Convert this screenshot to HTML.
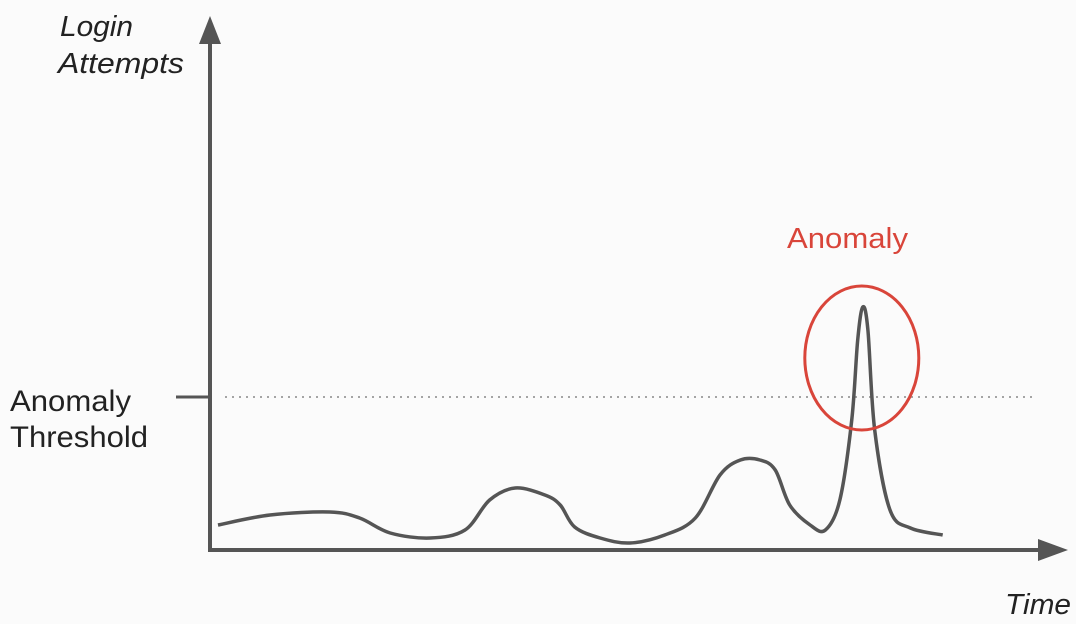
<!DOCTYPE html>
<html><head><meta charset="utf-8">
<style>
html,body{margin:0;padding:0;background:#fbfbfb;}
svg{display:block;}
text{font-family:"Liberation Sans",sans-serif;}
</style></head>
<body>
<svg id="chart" width="1076" height="624" viewBox="0 0 1076 624">
  <rect width="1076" height="624" fill="#fbfbfb"/>
  <text x="60" y="36" font-size="29" font-style="italic" fill="#222" textLength="73" lengthAdjust="spacingAndGlyphs">Login</text>
  <text x="58" y="73" font-size="29" font-style="italic" fill="#222" textLength="126" lengthAdjust="spacingAndGlyphs">Attempts</text>
  <text x="1005" y="614" font-size="29" font-style="italic" fill="#222" textLength="66" lengthAdjust="spacingAndGlyphs">Time</text>
  <text x="10" y="411" font-size="30" fill="#222" textLength="121" lengthAdjust="spacingAndGlyphs">Anomaly</text>
  <text x="10" y="447" font-size="30" fill="#222" textLength="138" lengthAdjust="spacingAndGlyphs">Threshold</text>
  <text x="787" y="248" font-size="29" fill="#d9453a" textLength="121" lengthAdjust="spacingAndGlyphs">Anomaly</text>
  <line x1="210" y1="40" x2="210" y2="552" stroke="#555" stroke-width="4"/>
  <polygon points="210,16 199,44 221,44" fill="#555"/>
  <line x1="208" y1="550" x2="1040" y2="550" stroke="#555" stroke-width="4"/>
  <polygon points="1068,550 1038,539 1038,561" fill="#555"/>
  <g id="marks"></g>
</svg>
<script>
const times = [0.94,7.06,14.1,17.6,21.2,25.9,30,32.9,35.9,39.4,41.2,42.9,45.9,49.4,53.5,57.1,60,62.4,64.7,66.5,68.2,70.6,72.4,74.1,75.5,76.2,76.8,77.4,78.2,80,82.4,86.2];
const attempts = [10,14,15.2,12.8,6.8,4.8,8,20,24.8,22,18,9.2,4.8,2.8,6,12.8,30,36,36,32,18,10,8,20,52,84,97.2,88,48,16,8.8,6];
const threshold = 61.2;

function xScale(t){return 210 + t*8.5;}
function yScale(v){return 550 - v*2.5;}

const NS="http://www.w3.org/2000/svg";
const g=document.getElementById('marks');

const tl=document.createElementNS(NS,'line');
tl.setAttribute('x1',176);tl.setAttribute('x2',210);
tl.setAttribute('y1',yScale(threshold));tl.setAttribute('y2',yScale(threshold));
tl.setAttribute('stroke','#555');tl.setAttribute('stroke-width','3');


g.appendChild(tl);

const dl=document.createElementNS(NS,'line');
dl.setAttribute('x1',225);dl.setAttribute('x2',1032);
dl.setAttribute('y1',yScale(threshold));dl.setAttribute('y2',yScale(threshold));
dl.setAttribute('stroke','#888');dl.setAttribute('stroke-width','1.6');dl.setAttribute('stroke-dasharray','2 5');


g.appendChild(dl);

const pts=times.map((t,i)=>[xScale(t),yScale(attempts[i])]);
let d='M'+pts[0][0]+','+pts[0][1];
for(let i=0;i<pts.length-1;i++){
  const p0=pts[Math.max(0,i-1)],p1=pts[i],p2=pts[i+1],p3=pts[Math.min(pts.length-1,i+2)];
  const c1x=p1[0]+(p2[0]-p0[0])/6,c1y=p1[1]+(p2[1]-p0[1])/6;
  const c2x=p2[0]-(p3[0]-p1[0])/6,c2y=p2[1]-(p3[1]-p1[1])/6;
  d+=' C'+c1x+','+c1y+' '+c2x+','+c2y+' '+p2[0]+','+p2[1];
}
const path=document.createElementNS(NS,'path');
path.setAttribute('d',d);path.setAttribute('fill','none');
path.setAttribute('stroke','#555');path.setAttribute('stroke-width','3.5');path.setAttribute('stroke-linejoin','round');


g.appendChild(path);

let mi=0;attempts.forEach((v,i)=>{if(v>attempts[mi])mi=i;});
const el=document.createElementNS(NS,'ellipse');
el.setAttribute('cx',xScale(times[mi])-1);el.setAttribute('cy',yScale(attempts[mi])+51);
el.setAttribute('rx',57);el.setAttribute('ry',72);
el.setAttribute('fill','none');el.setAttribute('stroke','#d9453a');el.setAttribute('stroke-width','3');


g.appendChild(el);
</script>
</body></html>
